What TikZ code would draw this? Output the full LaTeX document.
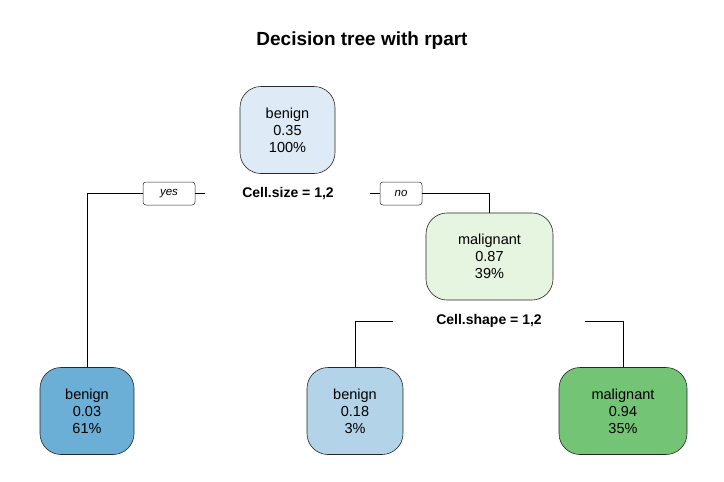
\documentclass[tikz,border=0pt]{standalone}
\usepackage{fontspec}
\setmainfont{Liberation Sans}
\usetikzlibrary{positioning}
\definecolor{rootfill}{HTML}{DEEBF7}
\definecolor{malfill}{HTML}{E5F5E0}
\definecolor{leafblue}{HTML}{6BAED6}
\definecolor{leaflight}{HTML}{B3D3E8}
\definecolor{leafgreen}{HTML}{74C476}
\tikzset{
    treenode/.style={draw=black!85, line width=0.6pt, rounded corners=21pt,
        align=center, minimum height=87pt, inner sep=0pt,
        font=\fontsize{14.5}{17}\selectfont},
    splitlabel/.style={font=\bfseries\fontsize{14}{16}\selectfont},
    yesno/.style={draw=black!85, line width=0.5pt, rounded corners=3pt,
        minimum width=52pt, minimum height=23pt, inner sep=0pt,
        font=\itshape\fontsize{11.5}{13}\selectfont}
}

\begin{document}
\begin{tikzpicture}[x=1pt, y=-1pt, line width=0.6pt]
\useasboundingbox (0,0) rectangle (724,482);

\node[font=\bfseries\fontsize{19}{22}\selectfont] (title) at (362,41) {Decision tree with rpart};

% root and its split
\node[treenode, fill=rootfill, minimum width=95pt] (root) at (287.5,130) {benign\\0.35\\100\%};
\node[splitlabel] (sizesplit) at (288,194) {Cell.size = 1,2};
\node[yesno] (yes) at (169,193.5) {yes};
\node[yesno, minimum width=42pt] (no) at (401,193.5) {no};

% second level
\node[treenode, fill=malfill, minimum width=127pt] (mal) at (489.5,256.5) {malignant\\0.87\\39\%};
\node[splitlabel] (shapesplit) at (489,321) {Cell.shape = 1,2};

% leaves
\node[treenode, fill=leafblue, minimum width=94pt] (leafA) at (87,411) {benign\\0.03\\61\%};
\node[treenode, fill=leaflight, minimum width=96pt] (leafB) at (355,411) {benign\\0.18\\3\%};
\node[treenode, fill=leafgreen, minimum width=128pt] (leafC) at (623,411) {malignant\\0.94\\35\%};

\coordinate (yesend) at (205,193.5);
\coordinate (noend) at (370,193.5);
\coordinate (leftend) at (393,321);
\coordinate (rightend) at (585,321);

\draw (yes.east) -- (yesend);
\draw (yes.west) -| (leafA.north);
\draw (no.west) -- (noend);
\draw (no.east) -| (mal.north);
\draw (leftend) -| (leafB.north);
\draw (rightend) -| (leafC.north);
\end{tikzpicture}
\end{document}
